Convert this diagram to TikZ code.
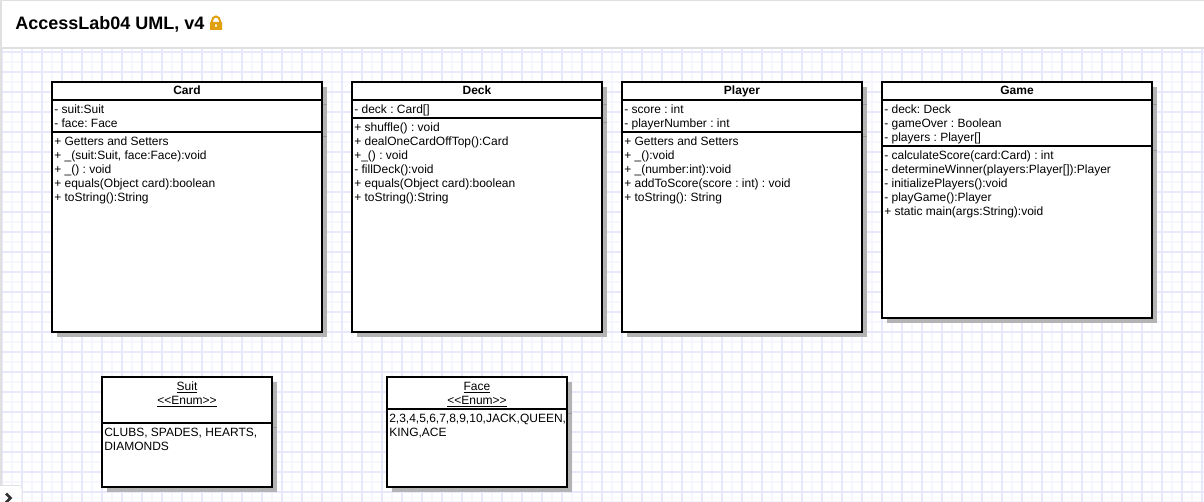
\documentclass[tikz,border=0pt]{standalone}
\usepackage{fontspec}
\setmainfont{Liberation Sans}
\usetikzlibrary{positioning}
\definecolor{gridmajor}{RGB}{232,232,252}
\definecolor{gridminor}{RGB}{246,246,254}
\definecolor{edgegray}{RGB}{224,224,224}
\definecolor{shadegray}{RGB}{179,179,179}
\definecolor{shadeline}{RGB}{150,150,150}
\definecolor{lockgold}{RGB}{224,160,16}
\tikzset{
  classpart/.style 2 args={draw=black,line width=1.5pt,fill=white,anchor=north west,outer sep=0pt,
    inner sep=0pt,minimum width=#1*0.75pt,minimum height=#2*0.75pt},
  classname/.style={font=\fontsize{9}{10.5}\selectfont\bfseries,inner sep=0pt,text height=8pt,text depth=2pt},
  members/.style={font=\fontsize{9}{10.5}\selectfont,align=left,anchor=north west,inner sep=0pt,text depth=0pt},
  enumname/.style={font=\fontsize{9}{10.5}\selectfont,align=center,anchor=north,inner sep=0pt},
}
\begin{document}
\frenchspacing
\begin{tikzpicture}[x=0.75pt,y=-0.75pt]
\useasboundingbox (0,0) rectangle (1204,502);
\fill[white] (0,0) rectangle (1204,502);
% grid
\foreach \gx in {12,32,...,1192} \draw[gridminor,line width=1pt] (\gx,48) -- (\gx,502);
\foreach \gy in {62,82,...,502} \draw[gridminor,line width=1pt] (2,\gy) -- (1204,\gy);
\foreach \gx in {2,22,...,1202} \draw[gridmajor,line width=1pt] (\gx,48) -- (\gx,502);
\foreach \gy in {52,72,...,492} \draw[gridmajor,line width=1pt] (2,\gy) -- (1204,\gy);
% title bar
\fill[white] (0,0) rectangle (1204,48);
\fill[edgegray] (0,0) rectangle (1204,1);
\fill[edgegray] (0,0) rectangle (2,502);
\fill[edgegray] (2,47.5) rectangle (1204,49);
\node[font=\fontsize{13.5}{16}\selectfont\bfseries,anchor=west,inner sep=0pt] (title) at (15,24) {AccessLab04 UML, v4};
% lock
\draw[lockgold,line width=1.5pt] (212,23) -- (212,21) arc (180:360:4 and 4.5) -- (220,23);
\fill[lockgold,even odd rule] (210,22) rectangle (222,30) (215.2,24.5) rectangle (216.8,27);
% collapse tab
\draw[edgegray,fill=white,rounded corners=2pt] (-1,485.5) -- (22,485.5) -- (22,504) -- (-1,504) -- cycle;
\draw[black!80,line width=2pt] (6,493.5) -- (10.5,498) -- (6,502.5);

% Card
\fill[shadegray] (57,87) rectangle (327,337);
\draw[shadeline] (322,104.5) -- (327,104.5) (322,136.5) -- (327,136.5);
\node[classpart={270}{18}] (cardhead) at (52,82) {};
\node[classpart={270}{32},below=0pt of cardhead.south west,anchor=north west] (cardattr) {};
\node[classpart={270}{200},below=0pt of cardattr.south west,anchor=north west] (cardops) {};
\node[classname] (cardname) at (cardhead.center) {Card};
\node[members] (cardfields) at (54,104.5) {- suit:Suit\\- face: Face};
\node[members] (cardmethods) at (54,136.5) {+ Getters and Setters\\+ \_(suit:Suit, face:Face):void\\+ \_() : void\\+ equals(Object card):boolean\\+ toString():String};

% Deck
\fill[shadegray] (357,87) rectangle (607,337);
\draw[shadeline] (602,104.5) -- (607,104.5) (602,122.5) -- (607,122.5);
\node[classpart={250}{18}] (deckhead) at (352,82) {};
\node[classpart={250}{18},below=0pt of deckhead.south west,anchor=north west] (deckattr) {};
\node[classpart={250}{214},below=0pt of deckattr.south west,anchor=north west] (deckops) {};
\node[classname] (deckname) at (deckhead.center) {Deck};
\node[members] (deckfields) at (354,104.5) {- deck : Card[]};
\node[members] (deckmethods) at (354,122.5) {+ shuffle() : void\\+ dealOneCardOffTop():Card\\+\_() : void\\- fillDeck():void\\+ equals(Object card):boolean\\+ toString():String};

% Player
\fill[shadegray] (627,87) rectangle (867,337);
\draw[shadeline] (862,104.5) -- (867,104.5) (862,136.5) -- (867,136.5);
\node[classpart={240}{18}] (playerhead) at (622,82) {};
\node[classpart={240}{32},below=0pt of playerhead.south west,anchor=north west] (playerattr) {};
\node[classpart={240}{200},below=0pt of playerattr.south west,anchor=north west] (playerops) {};
\node[classname] (playername) at (playerhead.center) {Player};
\node[members] (playerfields) at (624,104.5) {- score : int\\- playerNumber : int};
\node[members] (playermethods) at (624,136.5) {+ Getters and Setters\\+ \_():void\\+ \_(number:int):void\\+ addToScore(score : int) : void\\+ toString(): String};

% Game
\fill[shadegray] (887,87) rectangle (1157,323);
\draw[shadeline] (1152,104.5) -- (1157,104.5) (1152,150.5) -- (1157,150.5);
\node[classpart={270}{18}] (gamehead) at (882,82) {};
\node[classpart={270}{46},below=0pt of gamehead.south west,anchor=north west] (gameattr) {};
\node[classpart={270}{172},below=0pt of gameattr.south west,anchor=north west] (gameops) {};
\node[classname] (gamename) at (gamehead.center) {Game};
\node[members] (gamefields) at (884,104.5) {- deck: Deck\\- gameOver : Boolean\\- players : Player[]};
\node[members] (gamemethods) at (884,150.5) {- calculateScore(card:Card) : int\\- determineWinner(players:Player[]):Player\\- initializePlayers():void\\- playGame():Player\\+ static main(args:String):void};

% Suit
\fill[shadegray] (107,382) rectangle (277,492);
\draw[shadeline] (272,427.5) -- (277,427.5);
\node[classpart={170}{46}] (suithead) at (102,377) {};
\node[classpart={170}{64},below=0pt of suithead.south west,anchor=north west] (suitvals) {};
\node[enumname] (suitname) at (187,381.5) {\underline{Suit}\\\underline{<{}<Enum>{}>}};
\node[members] (suitlist) at (104,427.5) {CLUBS, SPADES, HEARTS,\\DIAMONDS};

% Face
\fill[shadegray] (392,382) rectangle (572,492);
\draw[shadeline] (567,413.5) -- (572,413.5);
\node[classpart={180}{32}] (facehead) at (387,377) {};
\node[classpart={180}{78},below=0pt of facehead.south west,anchor=north west] (facevals) {};
\node[enumname] (facename) at (477,381.5) {\underline{Face}\\\underline{<{}<Enum>{}>}};
\node[members] (facelist) at (389,413.5) {2,3,4,5,6,7,8,9,10,JACK,QUEEN,\\KING,ACE};
\end{tikzpicture}
\end{document}
